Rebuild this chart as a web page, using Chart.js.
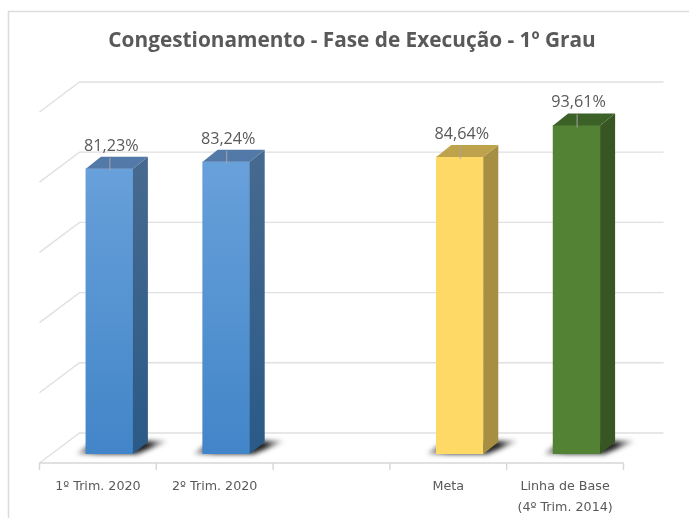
<!DOCTYPE html>
<html><head><meta charset="utf-8">
<style>html,body{margin:0;padding:0;background:#fff}#w{position:relative;width:689px;height:518px;overflow:hidden}canvas{display:block;filter:blur(0.65px)}</style>
<script src="https://cdn.jsdelivr.net/npm/chart.js@4"></script>
</head><body><div id="w"><canvas id="c" width="689" height="518"></canvas></div>
<script>
const categories = ["1º Trim. 2020", "2º Trim. 2020", "", "Meta", ["Linha de Base", "(4º Trim. 2014)"]];
const values = [81.23, 83.24, null, 84.64, 93.61];
const valueLabels = ["81,23%", "83,24%", "", "84,64%", "93,61%"];
const titleText = "Congestionamento - Fase de Execução - 1º Grau";
const frontTop = ["#70a6de", "#70a6de", "#000", "#ffd966", "#548235"];
const frontBottom = ["#4285c8", "#4285c8", "#000", "#ffd966", "#548235"];
const sideTop = ["#46698f", "#46698f", "#000", "#a68e43", "#375623"];
const sideBottom = ["#2a5a87", "#2a5a87", "#000", "#a68e43", "#375623"];
const topFace = ["#5279a8", "#5279a8", "#000", "#bfa24c", "#3b6127"];
const gridValues = [0, 20, 40, 60, 80, 100];
const DX = 15, DY = 12;
const GX = -11.5, GY = 9;
const BX = 40, BY = -30;
const ctxMain = document.getElementById('c').getContext('2d');

const threeD = {
  id: 'threeD',
  afterLayout(chart) {
    chart.titleBlock.left += 9; chart.titleBlock.right += 9;
  },
  beforeDatasetsDraw(chart) {
    const { ctx, scales: { x, y } } = chart;
    const hw = (x.getPixelForValue(1) - x.getPixelForValue(0)) / 2;
    const left = x.getPixelForValue(0) - hw + GX, right = x.getPixelForValue(4) + hw + GX;
    ctx.save();
    ctx.strokeStyle = '#e0e0e0'; ctx.lineWidth = 1.4;
    gridValues.forEach(v => {
      const py = y.getPixelForValue(v) + GY;
      ctx.beginPath();
      ctx.moveTo(left, py);
      ctx.lineTo(left + BX, py + BY);
      ctx.lineTo(right + BX, py + BY);
      ctx.stroke();
    });
    const py0 = y.getPixelForValue(0) + GY;
    ctx.beginPath();
    ctx.moveTo(left, py0); ctx.lineTo(right, py0);
    ctx.strokeStyle = '#d6d6d6';
    for (let i = 0; i <= 5; i++) {
      const tx = x.getPixelForValue(0) - hw + GX + i * 2 * hw;
      ctx.moveTo(tx, py0); ctx.lineTo(tx, py0 + 7);
    }
    ctx.stroke();
    const meta = chart.getDatasetMeta(0);
    meta.data.forEach((b, i) => {
      if (values[i] == null) return;
      const l = b.x - b.width / 2, r = b.x + b.width / 2, by = b.base;
      ctx.save();
      ctx.filter = 'blur(2.5px)';
      const g = ctx.createLinearGradient(l - 10, 0, r + 34, 0);
      g.addColorStop(0, 'rgba(90,90,90,.45)');
      g.addColorStop(0.25, 'rgba(30,30,30,1)');
      g.addColorStop(0.8, 'rgba(30,30,30,1)');
      g.addColorStop(1, 'rgba(120,120,120,.4)');
      ctx.fillStyle = g;
      ctx.beginPath();
      ctx.moveTo(l - 9, by);
      ctx.lineTo(l + 4, by - 10);
      ctx.lineTo(r + DX, by - DY - 1);
      ctx.lineTo(r + DX + 20, by - DY - 1);
      ctx.lineTo(r + 4, by);
      ctx.closePath();
      ctx.fill();
      ctx.restore();
    });
    ctx.restore();
  },
  afterDatasetsDraw(chart) {
    const { ctx } = chart;
    const meta = chart.getDatasetMeta(0);
    ctx.save();
    meta.data.forEach((b, i) => {
      if (values[i] == null) return;
      const l = b.x - b.width / 2, r = b.x + b.width / 2, t = b.y, by = b.base;
      const g = ctx.createLinearGradient(0, t, 0, by);
      g.addColorStop(0, sideTop[i]); g.addColorStop(1, sideBottom[i]);
      ctx.fillStyle = g;
      ctx.beginPath();
      ctx.moveTo(r, t); ctx.lineTo(r + DX, t - DY); ctx.lineTo(r + DX, by - DY); ctx.lineTo(r, by);
      ctx.closePath(); ctx.fill();
      ctx.fillStyle = topFace[i];
      ctx.beginPath();
      ctx.moveTo(l, t); ctx.lineTo(l + DX, t - DY); ctx.lineTo(r + DX, t - DY); ctx.lineTo(r, t);
      ctx.closePath(); ctx.fill();
      const cx = b.x + 0.5;
      ctx.strokeStyle = '#a6a6a6'; ctx.lineWidth = 1;
      ctx.beginPath(); ctx.moveTo(cx, t + 2); ctx.lineTo(cx, t - 11); ctx.stroke();
      ctx.fillStyle = '#595959';
      ctx.font = '16.2px "Open Sans", sans-serif';
      ctx.textAlign = 'center'; ctx.textBaseline = 'alphabetic';
      ctx.fillText(valueLabels[i], b.x + 2, t - 18);
    });
    ctx.restore();
  },
  afterDraw(chart) {
    const { ctx } = chart;
    ctx.save();
    ctx.strokeStyle = '#dcdcdc'; ctx.lineWidth = 1.5;
    ctx.beginPath();
    ctx.moveTo(8.5, 518); ctx.lineTo(8.5, 11.5); ctx.lineTo(689, 11.5);
    ctx.stroke();
    ctx.restore();
  }
};

new Chart(ctxMain, {
  type: 'bar',
  data: {
    labels: categories,
    datasets: [{
      data: values,
      barThickness: 47,
      borderWidth: 0,
      backgroundColor(c) {
        const area = c.chart.chartArea;
        if (!area) return frontBottom[c.dataIndex];
        const bar = c.chart.getDatasetMeta(0).data[c.dataIndex];
        const g = c.chart.ctx.createLinearGradient(0, bar && bar.y ? bar.y : area.top, 0, area.bottom);
        g.addColorStop(0, frontTop[c.dataIndex]);
        g.addColorStop(1, frontBottom[c.dataIndex]);
        return g;
      }
    }]
  },
  plugins: [threeD],
  options: {
    responsive: false,
    animation: false,
    layout: { padding: { left: 51, right: 54, top: 0, bottom: 0 } },
    plugins: {
      legend: { display: false },
      tooltip: { enabled: false },
      title: {
        display: true, text: titleText, color: '#595959',
        font: { family: '"Open Sans"', size: 20.8, weight: 'bold' },
        padding: { top: 29, bottom: 49 }
      }
    },
    scales: {
      x: {
        border: { display: false },
        grid: { display: false },
        afterFit(s) { s.height = 64; },
        ticks: { color: '#595959', font: { family: '"DejaVu Sans"', size: 12.7, lineHeight: 1.65 }, maxRotation: 0, autoSkip: false, labelOffset: -11.5, padding: 14 }
      },
      y: { display: false, min: 0, max: 100 }
    }
  }
});
</script></body></html>
